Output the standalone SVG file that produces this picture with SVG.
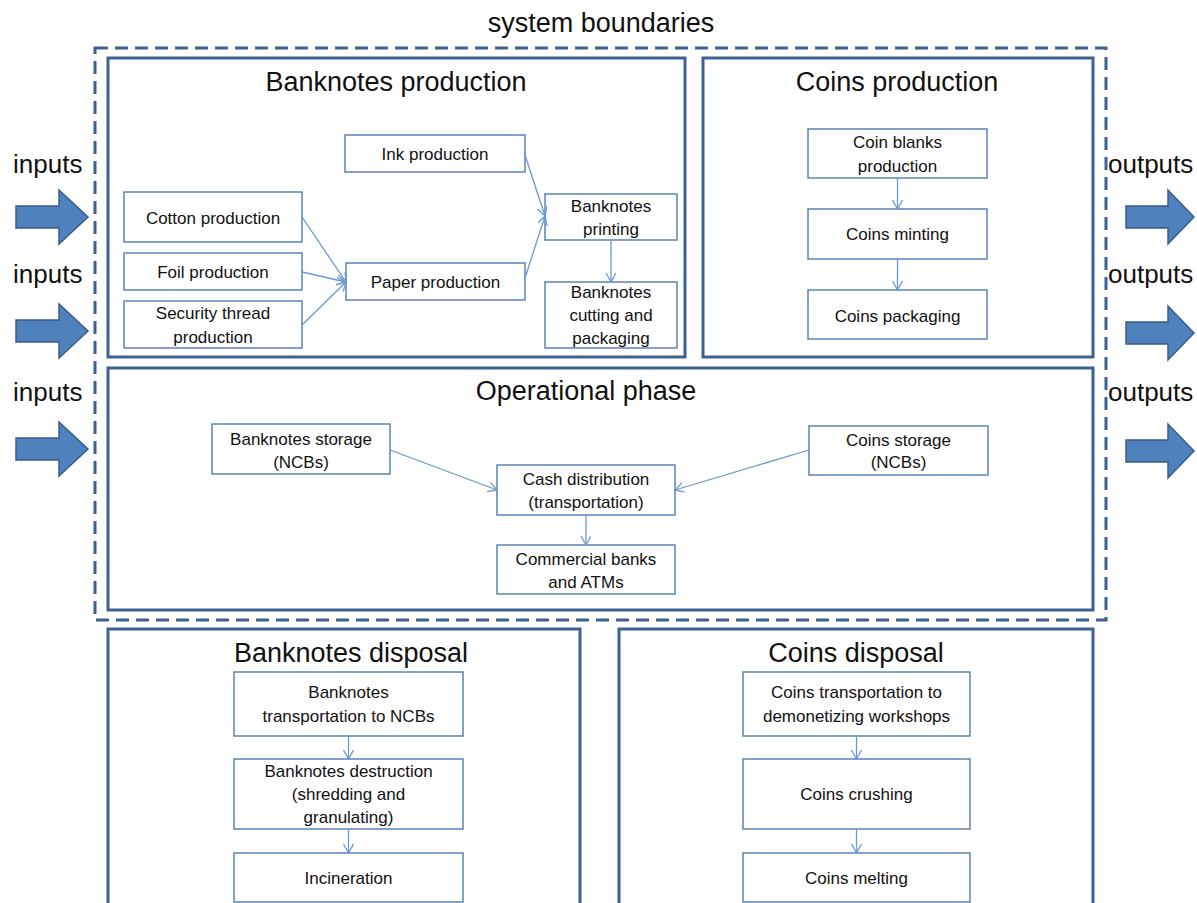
<svg xmlns="http://www.w3.org/2000/svg" width="1197" height="903" viewBox="0 0 1197 903">
<defs>
<style>
.title{font-family:"Liberation Sans",Arial,sans-serif;font-size:27px;fill:#111;text-anchor:middle}
.side{font-family:"Liberation Sans",Arial,sans-serif;font-size:26px;fill:#111}
.lbl{font-family:"Liberation Sans",Arial,sans-serif;font-size:17px;fill:#111;text-anchor:middle}
.box{fill:#fff;stroke:#3d6292;stroke-width:3}
.node{fill:#fff;stroke:#5b82b8;stroke-width:1.5}
.bound{fill:none;stroke:#3d6292;stroke-width:3;stroke-dasharray:13 7}
.big{fill:#4f81bd;stroke:#385d8a;stroke-width:1.5}
.conn{fill:none;stroke:#6a98d4;stroke-width:1.3;marker-end:url(#ah)}
</style>
<marker id="ah" markerUnits="userSpaceOnUse" markerWidth="12" markerHeight="12" refX="9" refY="5" orient="auto">
<path d="M0,0 L9,5 L0,10" fill="none" stroke="#6a98d4" stroke-width="1.3"/>
</marker>
</defs>
<rect width="1197" height="903" fill="#fff"/>

<text class="title" x="601" y="32">system boundaries</text>
<rect class="bound" x="95" y="48" width="1011" height="572"/>

<g id="io">
<text class="side" x="13" y="173">inputs</text>
<text class="side" x="13" y="283">inputs</text>
<text class="side" x="13" y="401">inputs</text>
<path class="big" d="M16,206 H59 V190 L88,217 L59,244 V228 H16 Z"/>
<path class="big" d="M16,320 H59 V304 L88,331 L59,358 V342 H16 Z"/>
<path class="big" d="M16,438 H59 V422 L88,449 L59,476 V460 H16 Z"/>
<text class="side" x="1108" y="173">outputs</text>
<text class="side" x="1108" y="283">outputs</text>
<text class="side" x="1108" y="401">outputs</text>
<path class="big" d="M1126,206 H1168 V190 L1194,217 L1168,244 V228 H1126 Z"/>
<path class="big" d="M1126,322 H1168 V306 L1194,333 L1168,360 V344 H1126 Z"/>
<path class="big" d="M1126,440 H1168 V424 L1194,451 L1168,478 V462 H1126 Z"/>
</g>

<g id="banknotes-production">
<rect class="box" x="108" y="58" width="577" height="299"/>
<text class="title" x="396" y="91">Banknotes production</text>
</g>
<g id="coins-production">
<rect class="box" x="703" y="58" width="390" height="299"/>
<text class="title" x="897" y="91">Coins production</text>
</g>
<g id="operational-phase">
<rect class="box" x="108" y="368" width="985" height="242"/>
<text class="title" x="586" y="400">Operational phase</text>
</g>
<g id="banknotes-disposal">
<rect class="box" x="108" y="629" width="472" height="300"/>
<text class="title" x="351" y="662">Banknotes disposal</text>
</g>
<g id="coins-disposal">
<rect class="box" x="619" y="629" width="474" height="300"/>
<text class="title" x="856" y="662">Coins disposal</text>
</g>

<g id="ink"><rect class="node" x="345" y="135" width="180" height="37"/><text class="lbl" x="435" y="159.5">Ink production</text></g>
<g id="cotton"><rect class="node" x="124" y="192" width="178" height="50"/><text class="lbl" x="213" y="224">Cotton production</text></g>
<g id="foil"><rect class="node" x="124" y="253" width="178" height="37"/><text class="lbl" x="213" y="277.5">Foil production</text></g>
<g id="thread"><rect class="node" x="124" y="301" width="178" height="47"/><text class="lbl" x="213" y="319">Security thread</text><text class="lbl" x="213" y="343">production</text></g>
<g id="paper"><rect class="node" x="346" y="263" width="179" height="37"/><text class="lbl" x="435.5" y="287.5">Paper production</text></g>
<g id="printing"><rect class="node" x="545" y="194" width="132" height="46"/><text class="lbl" x="611" y="212">Banknotes</text><text class="lbl" x="611" y="235">printing</text></g>
<g id="cutting"><rect class="node" x="545" y="282" width="132" height="66"/><text class="lbl" x="611" y="298">Banknotes</text><text class="lbl" x="611" y="321">cutting and</text><text class="lbl" x="611" y="344">packaging</text></g>

<g id="blanks"><rect class="node" x="808" y="129" width="179" height="49"/><text class="lbl" x="897.5" y="148">Coin blanks</text><text class="lbl" x="897.5" y="172">production</text></g>
<g id="minting"><rect class="node" x="808" y="209" width="179" height="50"/><text class="lbl" x="897.5" y="240">Coins minting</text></g>
<g id="cpack"><rect class="node" x="808" y="290" width="179" height="49"/><text class="lbl" x="897.5" y="322">Coins packaging</text></g>

<g id="bstorage"><rect class="node" x="212" y="424" width="178" height="50"/><text class="lbl" x="301" y="445">Banknotes storage</text><text class="lbl" x="301" y="468">(NCBs)</text></g>
<g id="cash"><rect class="node" x="497" y="465" width="178" height="50"/><text class="lbl" x="586" y="485">Cash distribution</text><text class="lbl" x="586" y="508">(transportation)</text></g>
<g id="banks"><rect class="node" x="497" y="545" width="178" height="49"/><text class="lbl" x="586" y="565">Commercial banks</text><text class="lbl" x="586" y="588">and ATMs</text></g>
<g id="cstorage"><rect class="node" x="809" y="426" width="179" height="49"/><text class="lbl" x="898.5" y="446">Coins storage</text><text class="lbl" x="898.5" y="468">(NCBs)</text></g>

<g id="btransport"><rect class="node" x="234" y="672" width="229" height="64"/><text class="lbl" x="348.5" y="698">Banknotes</text><text class="lbl" x="348.5" y="722">transportation to NCBs</text></g>
<g id="bdestruct"><rect class="node" x="234" y="759" width="229" height="70"/><text class="lbl" x="348.5" y="777">Banknotes destruction</text><text class="lbl" x="348.5" y="800">(shredding and</text><text class="lbl" x="348.5" y="823">granulating)</text></g>
<g id="incin"><rect class="node" x="234" y="853" width="229" height="49"/><text class="lbl" x="348.5" y="884">Incineration</text></g>

<g id="ctransport"><rect class="node" x="743" y="672" width="227" height="64"/><text class="lbl" x="856.5" y="698">Coins transportation to</text><text class="lbl" x="856.5" y="722">demonetizing workshops</text></g>
<g id="crush"><rect class="node" x="743" y="759" width="227" height="70"/><text class="lbl" x="856.5" y="800">Coins crushing</text></g>
<g id="melt"><rect class="node" x="743" y="853" width="227" height="49"/><text class="lbl" x="856.5" y="884">Coins melting</text></g>

<g id="connectors">
<line class="conn" x1="302" y1="217" x2="346" y2="282"/>
<line class="conn" x1="302" y1="272" x2="346" y2="282"/>
<line class="conn" x1="302" y1="325" x2="346" y2="282"/>
<line class="conn" x1="525" y1="155" x2="545" y2="216"/>
<line class="conn" x1="525" y1="278" x2="545" y2="216"/>
<line class="conn" x1="611" y1="240" x2="611" y2="282"/>
<line class="conn" x1="897.5" y1="178" x2="897.5" y2="209"/>
<line class="conn" x1="897.5" y1="259" x2="897.5" y2="290"/>
<line class="conn" x1="390" y1="450" x2="497" y2="490"/>
<line class="conn" x1="809" y1="450" x2="675" y2="490"/>
<line class="conn" x1="586" y1="515" x2="586" y2="545"/>
<line class="conn" x1="348.5" y1="736" x2="348.5" y2="759"/>
<line class="conn" x1="348.5" y1="829" x2="348.5" y2="853"/>
<line class="conn" x1="856.5" y1="736" x2="856.5" y2="759"/>
<line class="conn" x1="856.5" y1="829" x2="856.5" y2="853"/>
</g>
</svg>
